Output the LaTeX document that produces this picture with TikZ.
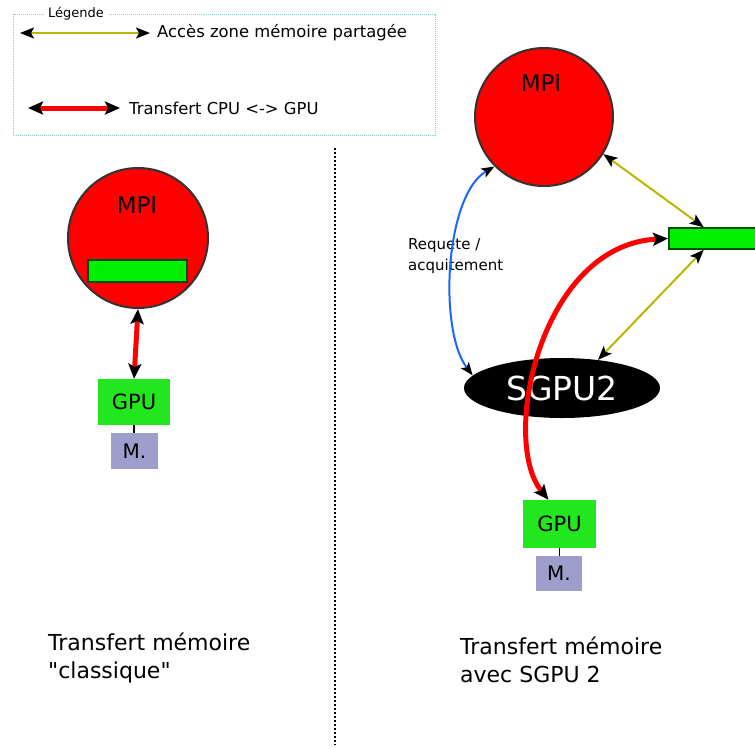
\documentclass[tikz,border=0pt]{standalone}
\usepackage{fontspec}
\setmainfont{DejaVu Sans}[Ligatures=TeXOff]
\usetikzlibrary{arrows.meta,shapes.geometric}
\definecolor{olivec}{HTML}{B8B800}
\definecolor{redc}{HTML}{FF0000}
\definecolor{greenbar}{HTML}{00F000}
\definecolor{gpugreen}{HTML}{22E61E}
\definecolor{memblue}{HTML}{9E9ECC}
\definecolor{legcol}{HTML}{7FCFDF}
\definecolor{bluec}{HTML}{1A66FF}
\tikzset{
  olivearrow/.style={draw=olivec,line width=2pt,{Stealth[length=14pt,width=11pt,inset=3pt,color=black]}-{Stealth[length=14pt,width=11pt,inset=3pt,color=black]}},
  redarrow/.style={draw=redc,line width=5pt,{Stealth[length=15pt,width=13pt,inset=3pt,color=black]}-{Stealth[length=15pt,width=13pt,inset=3pt,color=black]}},
  bluearrow/.style={draw=bluec,line width=2pt,{Stealth[length=13pt,width=10pt,inset=3pt,color=black]}-{Stealth[length=13pt,width=10pt,inset=3pt,color=black]}},
  mpicircle/.style={circle,fill=redc,draw=black!80,line width=2pt,inner sep=0pt},
  barbox/.style={rectangle,fill=greenbar,draw=black!70!green,line width=1.5pt,inner sep=0pt},
  gpubox/.style={rectangle,fill=gpugreen,inner sep=0pt,font=\fontsize{21}{23}\selectfont},
  membox/.style={rectangle,fill=memblue,inner sep=0pt,font=\fontsize{20}{22}\selectfont},
  txt/.style={inner sep=0pt,anchor=west},
  bigtxt/.style={inner sep=0pt,anchor=north west,align=left,font=\fontsize{22}{28}\selectfont},
}
\begin{document}
\begin{tikzpicture}[x=1pt,y=-1pt]
\useasboundingbox (0,0) rectangle (755,748);
\clip (0,0) rectangle (755,748);
\fill[white] (0,0) rectangle (755,748);
% legend
\node (legendbox) [draw=legcol,densely dotted,line width=1pt,minimum width=422pt,minimum height=121pt,anchor=north west,inner sep=0pt] at (13,14) {};
\node (legtitle) [fill=white,inner xsep=4pt,inner ysep=1pt,anchor=west,font=\fontsize{13}{15}\selectfont] at (44,14) {Légende};
\coordinate (la1) at (20,33);
\coordinate (la2) at (150,33);
\draw[olivearrow] (la1) -- (la2);
\node (legtxt1) [txt,font=\fontsize{16.4}{18}\selectfont] at (157,33) {Accès zone mémoire partagée};
\coordinate (lb1) at (28,108);
\coordinate (lb2) at (120,108);
\draw[redarrow] (lb1) -- (lb2);
\node (legtxt2) [txt,font=\fontsize{16.4}{18}\selectfont] at (129,108) {Transfert CPU <-> GPU};
% separator
\coordinate (sep1) at (335,148);
\coordinate (sep2) at (335,745);
\draw[black,dotted,line width=2pt] (sep1) -- (sep2);
% left part
\node (mpi1) [mpicircle,minimum size=140pt] at (138,238) {};
\node (mpi1t) [inner sep=0pt,font=\fontsize{23}{25}\selectfont] at (137,205) {MPI};
\node (bar1) [barbox,minimum width=99pt,minimum height=22pt] at (137.5,271) {};
\node (gpu1) [gpubox,minimum width=72pt,minimum height=46pt] at (134,402) {GPU};
\node (mem1) [membox,minimum width=47pt,minimum height=36pt] at (134.5,451) {M.};
\draw[black,line width=1.5pt] (gpu1.south) -- (gpu1.south |- mem1.north);
\draw[redarrow] (mpi1.south) -- (gpu1.north);
\node (cap1) [bigtxt] at (48,633) {Transfert mémoire\\"classique"};
% right part
\node (mpi2) [mpicircle,minimum size=138pt] at (544,117) {};
\node (mpi2t) [inner sep=0pt,font=\fontsize{23}{25}\selectfont] at (541,83) {MPI};
\node (bar2) [barbox,minimum width=100pt,minimum height=21pt,anchor=west] at (668,238.5) {};
\node (sgpu) [ellipse,fill=black,minimum width=196pt,minimum height=60pt,inner sep=0pt,text=white,font=\fontsize{33}{35}\selectfont] at (562,388) {SGPU2};
\node (gpu2) [gpubox,minimum width=73pt,minimum height=48pt] at (559.5,524) {GPU};
\node (mem2) [membox,minimum width=46pt,minimum height=35pt] at (559,573.5) {M.};
\draw[black,line width=1.5pt] (gpu2.south) -- (gpu2.south |- mem2.north);
\node (req) [inner sep=0pt,anchor=north west,align=left,font=\fontsize{15}{21}\selectfont] at (408,238) {Requete /\\acquitement};
\draw[bluearrow] (mpi2.225) .. controls (445,195) and (438,330) .. (sgpu.172);
\draw[olivearrow] (mpi2.-32) -- ([xshift=-15pt]bar2.north);
\draw[olivearrow] ([xshift=-15pt]bar2.south) -- (sgpu.38);
\draw[redarrow] (bar2.west) .. controls (540,245) and (500,440) .. ([xshift=-11pt]gpu2.north);
\node (cap2) [bigtxt] at (460,637) {Transfert mémoire\\avec SGPU 2};
\end{tikzpicture}
\end{document}
